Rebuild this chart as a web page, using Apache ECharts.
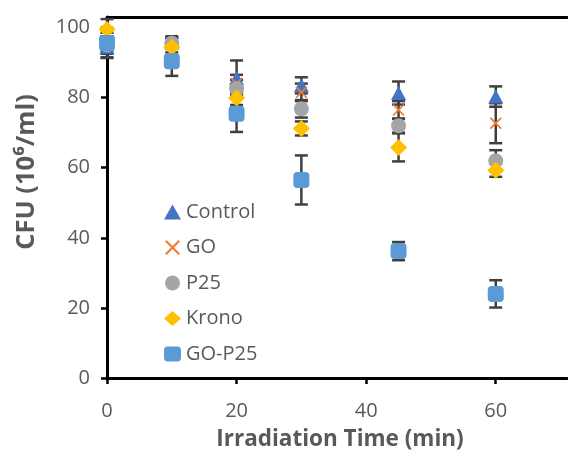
<!DOCTYPE html>
<html>
<head>
<meta charset="utf-8">
<script src="https://cdn.jsdelivr.net/npm/echarts@6/dist/echarts.min.js"></script>
<style>
  html, body { margin: 0; padding: 0; background: #fff; }
  #chart { width: 568px; height: 453px; }
</style>
</head>
<body>
<div id="chart"></div>
<script>
// Irradiation time points (min)
const times = [0, 10, 20, 30, 45, 60];

// Mean CFU (10^6/ml) and error half-widths for each sample
const control    = [94.5, 96.0, 85.6, 83.5, 81.3, 80.3];
const controlErr = [3.0, 1.5, 5.0, 2.3, 3.3, 2.9];
const go         = [96.0, 95.5, 84.0, 81.5, 76.5, 72.7];
const goErr      = [2.5, 1.5, 2.5, 2.5, 2.5, 5.7];
const p25        = [95.0, 95.5, 82.6, 76.8, 72.0, 62.0];
const p25Err     = [2.5, 1.5, 2.5, 2.5, 2.0, 3.0];
const krono      = [99.4, 94.4, 79.9, 71.2, 65.8, 59.3];
const kronoErr   = [3.0, 1.5, 2.0, 2.0, 4.0, 1.9];
const goP25      = [95.6, 90.4, 75.4, 56.5, 36.2, 24.0];
const goP25Err   = [4.3, 4.2, 5.2, 7.0, 2.6, 3.9];

// Axis tick labels
const xTicks = [0, 20, 40, 60];
const yTicks = [0, 20, 40, 60, 80, 100];

const FONT = 'Open Sans';
const TEXT = '#595959';

// Filled X-shaped marker
const crossPath = 'path://M0,1L1,0L5,4L9,0L10,1L6,5L10,9L9,10L5,6L1,10L0,9L4,5Z';

const samples = [
  { name: 'Control', values: control, err: controlErr, symbol: 'triangle', size: [15, 14], color: '#4472C4' },
  { name: 'GO',      values: go,      err: goErr,      symbol: crossPath,  size: 12,       color: '#ED7D31' },
  { name: 'P25',     values: p25,     err: p25Err,     symbol: 'circle',   size: 15,       color: '#A5A5A5' },
  { name: 'Krono',   values: krono,   err: kronoErr,   symbol: 'diamond',  size: 17,       color: '#FFC000' },
  { name: 'GO-P25',  values: goP25,   err: goP25Err,   symbol: 'roundRect', size: 16,      color: '#5B9BD5' }
];

// Vertical error bar with caps
function renderErrorBar(params, api) {
  const x = api.value(0), y = api.value(1), e = api.value(2);
  const top = api.coord([x, y + e]);
  const bot = api.coord([x, y - e]);
  const hw = 6.5;
  const style = { stroke: '#404040', lineWidth: 2.5 };
  return {
    type: 'group',
    children: [
      { type: 'line', shape: { x1: top[0], y1: top[1], x2: bot[0], y2: bot[1] }, style },
      { type: 'line', shape: { x1: top[0] - hw, y1: top[1], x2: top[0] + hw, y2: top[1] }, style },
      { type: 'line', shape: { x1: bot[0] - hw, y1: bot[1], x2: bot[0] + hw, y2: bot[1] }, style }
    ]
  };
}

const series = [];
samples.forEach(s => {
  series.push({
    type: 'custom',
    name: s.name + ' error',
    renderItem: renderErrorBar,
    clip: false,
    z: 1,
    encode: { x: 0, y: 1 },
    data: times.map((t, i) => [t, s.values[i], s.err[i]])
  });
});
samples.forEach(s => {
  series.push({
    type: 'scatter',
    name: s.name,
    symbol: s.symbol,
    symbolSize: s.size,
    clip: false,
    z: 3,
    itemStyle: { color: s.color, opacity: 1 },
    data: times.map((t, i) => [t, s.values[i]])
  });
});

const chart = echarts.init(document.getElementById('chart'), null, { renderer: 'canvas' });
chart.setOption({
  animation: false,
  backgroundColor: '#ffffff',
  grid: { left: 107, right: 1, top: 17, bottom: 75 },
  legend: {
    data: samples.map(s => s.name),
    orient: 'vertical',
    left: 159,
    top: 197,
    itemWidth: 17,
    itemHeight: 15,
    itemGap: 15.5,
    selectedMode: false,
    textStyle: { fontFamily: FONT, fontSize: 20, color: TEXT }
  },
  xAxis: [{
    type: 'value',
    min: 0,
    max: 71,
    interval: 20,
    axisLine: { show: true, onZero: false, lineStyle: { color: '#000', width: 3 } },
    axisTick: { show: true, length: 6, customValues: xTicks, lineStyle: { color: '#000', width: 2.5 } },
    axisLabel: { customValues: xTicks, margin: 23, fontFamily: FONT, fontSize: 20, color: TEXT },
    splitLine: { show: false }
  }, {
    type: 'value',
    position: 'top',
    min: 0,
    max: 71,
    axisLine: { show: true, onZero: false, lineStyle: { color: '#000', width: 3 } },
    axisTick: { show: false },
    axisLabel: { show: false },
    splitLine: { show: false }
  }],
  yAxis: {
    type: 'value',
    min: 0,
    max: 103,
    interval: 20,
    axisLine: { show: true, onZero: false, lineStyle: { color: '#000', width: 3 } },
    axisTick: { show: true, length: 6, customValues: yTicks, lineStyle: { color: '#000', width: 2.5 } },
    axisLabel: { customValues: yTicks, margin: 17, fontFamily: FONT, fontSize: 20, color: TEXT },
    splitLine: { show: false }
  },
  graphic: [
    {
      type: 'text',
      x: 340,
      y: 440,
      style: {
        text: 'Irradiation Time (min)',
        align: 'center',
        verticalAlign: 'middle',
        font: 'bold 22.5px "Open Sans"',
        fill: TEXT
      }
    },
    {
      type: 'text',
      x: 27,
      y: 172,
      rotation: Math.PI / 2,
      style: {
        text: 'CFU (10⁶/ml)',
        align: 'center',
        verticalAlign: 'middle',
        font: 'bold 25.5px "Open Sans"',
        fill: TEXT
      }
    }
  ],
  series
});
</script>
</body>
</html>
